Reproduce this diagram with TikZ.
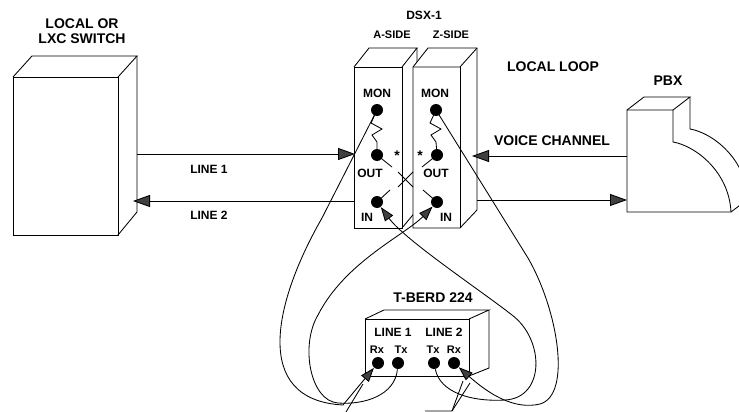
\documentclass[tikz,border=0pt]{standalone}
\usepackage{fontspec}
\setmainfont{Liberation Sans}
\usetikzlibrary{arrows.meta}

\begin{document}
\begin{tikzpicture}[x=1pt, y=-1pt, line width=0.85pt,
    big/.style={font=\bfseries\fontsize{14}{14.5}\selectfont, inner sep=0pt},
    small/.style={font=\bfseries\fontsize{12}{12.5}\selectfont, inner sep=0pt},
    tiny/.style={font=\bfseries\fontsize{11}{11.5}\selectfont, inner sep=0pt},
    jack/.style={circle, fill, inner sep=0pt, minimum size=12pt},
    sig/.style={-{Triangle[length=17pt,width=12pt,fill=black!75]}},
    plug/.style={-{Triangle[length=14pt,width=10pt,fill=black!75]}}]
                \useasboundingbox (0,0) rectangle (739,412);

                % switch box
                \draw (13,77) rectangle (118,235);
                \draw (13,77) -- (32,56) -- (137,56) -- (118,77);
                \draw (137,56) -- (137,212) -- (118,235);
                \node[big, align=center] (sw) at (82,31) {LOCAL OR\\LXC SWITCH};

                % DSX-1 panel, A side then Z side on top of it
                \draw (354,67) rectangle (402,228);
                \draw (354,67) -- (369,48) -- (417,48) -- (402,67);
                \draw (417,48) -- (417,210) -- (402,228);
                \filldraw[fill=white] (413,67) -- (428,48) -- (477,48) -- (477,210)
                    -- (460,228) -- (413,228) -- cycle;
                \draw (413,67) -- (460,67) -- (477,48);
                \draw (460,67) -- (460,228);

                \node[small] (dsx) at (424,15) {DSX-1};
                \node[tiny] (aside) at (392,35) {A-SIDE};
                \node[tiny] (zside) at (451,35) {Z-SIDE};
                \node[small] (amonl) at (377,93) {MON};
                \node[small] (zmonl) at (435,93) {MON};
                \node[small] (aoutl) at (370,173) {OUT};
                \node[small] (zoutl) at (436,173) {OUT};
                \node[small] (ainl) at (367,217) {IN};
                \node[small] (zinl) at (446,217) {IN};
                \node[big] (astar) at (397,156) {*};
                \node[big] (zstar) at (420,156) {*};

                \node[jack] (amon) at (377,110) {};
                \node[jack] (aout) at (377,155) {};
                \node[jack] (ain) at (377,202) {};
                \node[jack] (zmon) at (436,110) {};
                \node[jack] (zout) at (437,155) {};
                \node[jack] (zin) at (437,202) {};

                % normal-through springs and contacts
                \draw (amon.center) -- (371,123) -- (382,129) -- (372,135) -- (377,142) -- (aout.center);
                \draw (zmon.center) -- (430,123) -- (441,129) -- (431,135) -- (436,142) -- (zout.center);
                \draw (aout.center) -- (392,167);
                \draw (zout.center) -- (422,167);
                \draw (ain.center) -- (390,190);
                \draw (zin.center) -- (423,190);
                \draw (398,172) -- (413,187);
                \draw (413,172) -- (398,187);

                % PBX
                \draw (627,110) -- (673,110) -- (673,142) .. controls (696,146) and (729,172) .. (731,212)
                    -- (627,212) -- cycle;
                \draw (627,110) -- (644,97) -- (690,97) -- (673,110);
                \draw (690,97) -- (690,129) .. controls (713,133) and (746,159) .. (748,199) -- (731,212);
                \node[big] (pbx) at (668,81) {PBX};
                \node[big] (loop) at (553,67) {LOCAL LOOP};
                \node[big] (voice) at (552,141) {VOICE CHANNEL};

                % T-BERD 224
                \draw (365,319) rectangle (469,376);
                \draw (365,319) -- (384,310) -- (489,310) -- (469,319);
                \draw (489,310) -- (489,368) -- (469,376);
                \node[big] (tb) at (433,298) {T-BERD 224};
                \node[small] (tbl1) at (393,332) {LINE 1};
                \node[small] (tbl2) at (444,332) {LINE 2};
                \node[tiny] (rx1l) at (377,350) {Rx};
                \node[tiny] (tx1l) at (401,350) {Tx};
                \node[tiny] (tx2l) at (433,350) {Tx};
                \node[tiny] (rx2l) at (454,350) {Rx};
                \node[jack] (rx1) at (378,363) {};
                \node[jack] (tx1) at (398,363) {};
                \node[jack] (tx2) at (434,363) {};
                \node[jack] (rx2) at (454,363) {};

                % lines 1 and 2, voice channel
                \coordinate (l1s) at (137,154);
                \coordinate (l1e) at (355,154);
                \coordinate (l2s) at (354,201);
                \coordinate (l2e) at (133,201);
                \coordinate (vcs) at (627,156);
                \coordinate (vce) at (472,156);
                \coordinate (pbs) at (477,200);
                \coordinate (pbe) at (627,200);
                \draw[sig] (l1s) -- (l1e);
                \draw[sig] (l2s) -- (l2e);
                \draw[sig] (vcs) -- (vce);
                \draw[sig] (pbs) -- (pbe);
                \node[small] (line1) at (209,169) {LINE 1};
                \node[small] (line2) at (209,215) {LINE 2};

                % patch cords
                \draw[plug] (amon.center) -- (322,218) .. controls (275,300) and (250,400) .. (343,405) -- (rx1);
                \draw[plug] (tx1) .. controls (395,395) and (365,405) .. (338,403)
                    .. controls (310,401) and (300,345) .. (318,315)
                    .. controls (345,262) and (405,235) .. (zin);
                \draw[plug] (tx2) .. controls (440,392) and (470,402) .. (505,400)
                    .. controls (545,398) and (545,340) .. (512,315)
                    .. controls (480,290) and (405,240) .. (ain);
                \draw[plug] (zmon.center) -- (528,258) .. controls (558,310) and (572,395) .. (540,404)
                    .. controls (515,410) and (490,395) .. (rx2);

                % callout leaders
                \coordinate (cl) at (346,412);
                \coordinate (cr) at (452,411);
                \draw (cl) -- (363,384);
                \draw (425,411) -- (cr) -- (463,381);
                \draw (cr) -- (470,383);
            \end{tikzpicture}
\end{document}
